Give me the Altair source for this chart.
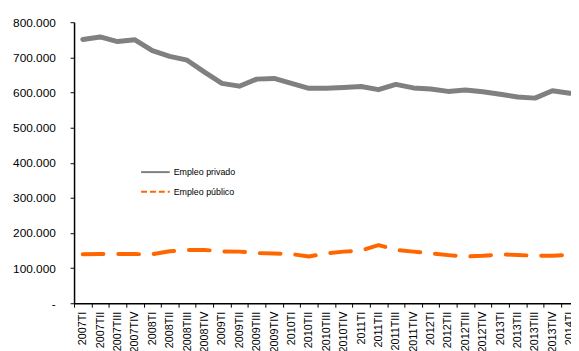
import altair as alt
import pandas as pd

quarters = [
    "2007TI", "2007TII", "2007TIII", "2007TIV",
    "2008TI", "2008TII", "2008TIII", "2008TIV",
    "2009TI", "2009TII", "2009TIII", "2009TIV",
    "2010TI", "2010TII", "2010TIII", "2010TIV",
    "2011TI", "2011TII", "2011TIII", "2011TIV",
    "2012TI", "2012TII", "2012TIII", "2012TIV",
    "2013TI", "2013TII", "2013TIII", "2013TIV",
    "2014TI",
]

empleo_privado = [
    751000, 758000, 745000, 750000,
    719000, 703000, 692000, 658000,
    626000, 618000, 638000, 640000,
    626000, 612000, 612000, 614000,
    617000, 608000, 623000, 613000,
    610000, 603000, 607000, 602000,
    595000, 587000, 584000, 605000,
    598000,
]

empleo_publico = [
    139500, 140400, 140400, 140000,
    139500, 148000, 151700, 151700,
    147500, 147000, 143000, 141400,
    140000, 133000, 142000, 147000,
    150000, 165700, 151700, 147000,
    142000, 137000, 133000, 135000,
    139000, 137600, 135000, 135000,
    137600,
]

series_names = ["Empleo privado", "Empleo público"]
series_colors = ["#808080", "#FF6600"]

df_priv = pd.DataFrame({"q": quarters, "v": empleo_privado})
df_pub = pd.DataFrame({"q": quarters, "v": empleo_publico})

FONT = "Liberation Sans"

x_enc = alt.X(
    "q:N",
    sort=quarters,
    scale=alt.Scale(type="band", paddingInner=0, paddingOuter=0, range=[0, 511.6]),
    axis=alt.Axis(
        title=None,
        labelAngle=270,
        tickBand="extent",
        tickSize=4,
        tickColor="black",
        domainColor="black",
        domainWidth=1.5,
        labelFont=FONT,
        labelFontSize=11,
        labelColor="black",
        labelPadding=4,
        grid=False,
    ),
)

y_enc = alt.Y(
    "v:Q",
    scale=alt.Scale(domain=[0, 800000]),
    axis=alt.Axis(
        title=None,
        values=list(range(0, 800001, 100000)),
        labelExpr="datum.value == 0 ? '-\u00a0\u00a0\u00a0' : replace(format(datum.value, ','), ',', '.')",
        tickSize=4,
        tickColor="black",
        domainColor="black",
        domainWidth=1.5,
        labelFont=FONT,
        labelFontSize=12,
        labelColor="black",
        labelPadding=15,
        grid=False,
    ),
)

priv_line = alt.Chart(df_priv).mark_line(
    color=series_colors[0], strokeWidth=5, strokeJoin="round", strokeCap="round"
).encode(x=x_enc, y=y_enc)

pub_line = alt.Chart(df_pub).mark_line(
    color=series_colors[1], strokeWidth=4, strokeDash=[21, 15], strokeCap="round", strokeJoin="round"
).encode(x=x_enc, y=y_enc)

leg_priv = pd.DataFrame({"label": [series_names[0]]})
leg_pub = pd.DataFrame({"label": [series_names[1]]})

leg_rule_priv = alt.Chart(leg_priv).mark_rule(color=series_colors[0], strokeWidth=2).encode(
    x=alt.value(68), x2=alt.value(97), y=alt.value(152)
)
leg_text_priv = alt.Chart(leg_priv).mark_text(
    align="left", baseline="middle", font=FONT, fontSize=9, color="black"
).encode(x=alt.value(101), y=alt.value(152), text="label:N")

leg_rule_pub = alt.Chart(leg_pub).mark_rule(
    color=series_colors[1], strokeWidth=2, strokeDash=[6, 3]
).encode(x=alt.value(68), x2=alt.value(97), y=alt.value(172))
leg_text_pub = alt.Chart(leg_pub).mark_text(
    align="left", baseline="middle", font=FONT, fontSize=9, color="black"
).encode(x=alt.value(101), y=alt.value(172), text="label:N")

chart = alt.layer(
    priv_line, pub_line, leg_rule_priv, leg_text_priv, leg_rule_pub, leg_text_pub
).properties(
    width=504,
    height=285,
    padding={"left": 67, "top": 12, "right": 0, "bottom": 46},
    autosize=alt.AutoSizeParams(type="none"),
    background="white",
).configure_view(strokeWidth=0)

chart.save("out.html", embed_options={"renderer": "svg", "actions": False})
